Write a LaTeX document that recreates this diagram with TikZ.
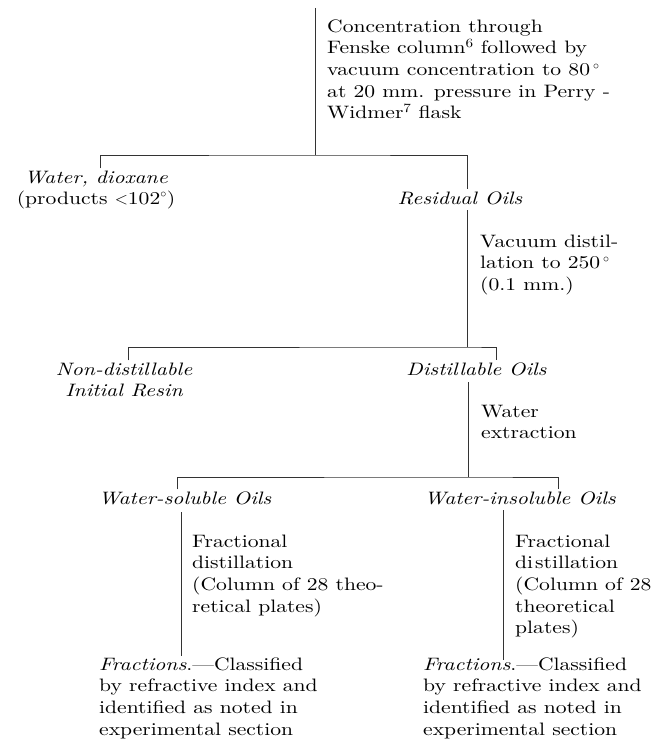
\documentclass[tikz,border=0pt]{standalone}
\usepackage{fontspec}
\setmainfont{lmroman10}[Extension=.otf, UprightFont=*-regular, ItalicFont=*-italic, BoldFont=*-bold, BoldItalicFont=*-bolditalic, FakeStretch=1.2]

\begin{document}
\begin{tikzpicture}[x=1pt, y=-1pt,
		txt/.style={anchor=north west, inner sep=0pt, align=left, font=\fontsize{18}{21.6}\selectfont},
		lab/.style={anchor=north, inner sep=0pt, align=center, font=\fontsize{18}{21}\selectfont\itshape},
		link/.style={line width=0.55pt, black!80}]
		\useasboundingbox (0,0) rectangle (654,741);

		% top step
		\coordinate (c0) at (315,8);
		\coordinate (c1) at (315,155);
		\node[txt] (conc) at (327,16.9) {\strut Concentration through\\Fenske column\textsuperscript{6} followed by\\vacuum concentration to 80\,$^\circ$\\at 20 mm. pressure in Perry -\\Widmer\textsuperscript{7} flask};
		\node[lab] (wd) at (96,168.3) {\strut Water, dioxane\\\textup{(products $<$102$^\circ$)}};
		\node[lab] (res) at (460,189.3) {\strut Residual Oils};

		% vacuum distillation
		\coordinate (r1) at (467,210);
		\coordinate (r2) at (467,347);
		\node[txt] (vac) at (480,231.9) {\strut Vacuum distil-\\lation to 250\,$^\circ$\\(0.1 mm.)};
		\node[lab] (nd) at (124,360.3) {\strut Non-distillable\\Initial Resin};
		\node[lab] (dist) at (476.5,360.3) {\strut Distillable Oils};

		% water extraction
		\coordinate (d1) at (468,382);
		\coordinate (d2) at (468,477);
		\node[txt] (wex) at (481,401.9) {\strut Water\\extraction};
		\node[lab] (ws) at (185,489.3) {\strut Water-soluble Oils};
		\node[lab] (wi) at (520,489.3) {\strut Water-insoluble Oils};

		% fractional distillation
		\coordinate (f1) at (181,512);
		\coordinate (f2) at (181,656);
		\coordinate (g1) at (503,510);
		\coordinate (g2) at (503,660);
		\node[txt] (fdl) at (192,531.9) {\strut Fractional\\distillation\\(Column of 28 theo-\\retical plates)};
		\node[txt] (fdr) at (515,531.9) {\strut Fractional\\di\hspace{2pt}stillation\\(Column of 28\\theoretical\\plates)};
		\node[txt] (frl) at (99,655) {\strut\textit{Fractions}.---Classified\\by refractive index and\\identified as noted in\\experimental section};
		\node[txt] (frr) at (423,655) {\strut\textit{Fractions}.---Classified\\by refractive index and\\identified as noted in\\experimental section};

		\draw[link] (c0) -- (c1);
		\draw[link] ([xshift=4pt]wd.north) |- (c1) -| (res.north -| r1);
		\draw[link] (r1) -- (r2);
		\draw[link] ([xshift=4pt]nd.north) |- (r2) -| ([xshift=19.5pt]dist.north);
		\draw[link] (d1) -- (d2);
		\draw[link] ([xshift=-8pt]ws.north) |- (d2) -| ([xshift=38pt]wi.north);
		\draw[link] (f1) -- (f2);
		\draw[link] (g1) -- (g2);
	\end{tikzpicture}
\end{document}
